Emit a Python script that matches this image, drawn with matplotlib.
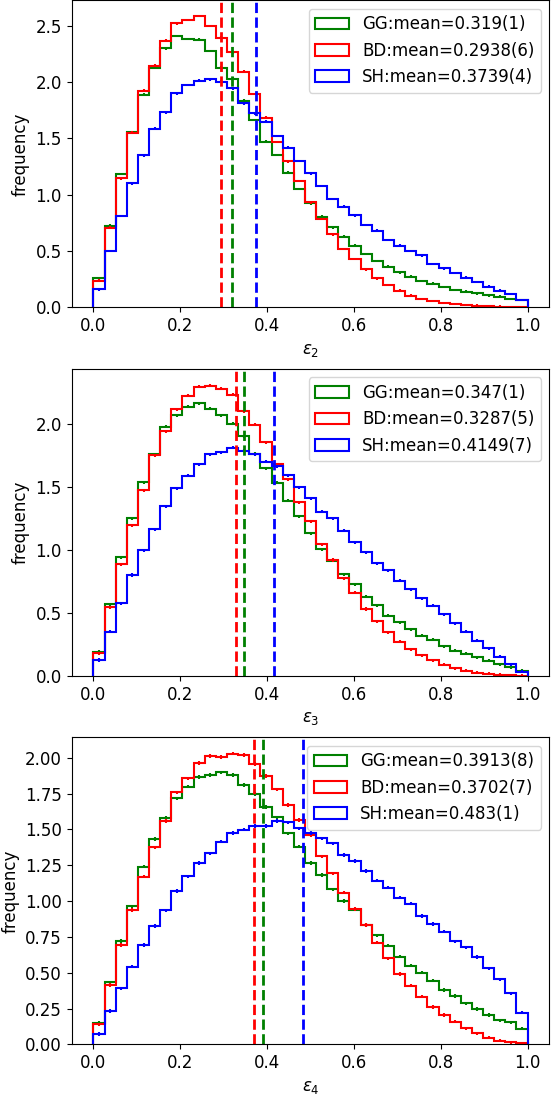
import numpy as np
import matplotlib
matplotlib.use('Agg')
import matplotlib.pyplot as plt

plt.rcParams['font.size'] = 12

# 39 Bins auf [0, 1], normierte Haeufigkeit
edges = np.linspace(0, 1, 40)

####### Daten eps_2 #######
gg_2 = [0.257, 0.725, 1.183, 1.553, 1.888, 2.124, 2.299, 2.408, 2.382, 2.376, 2.275, 2.127, 2.030,
        1.834, 1.663, 1.470, 1.352, 1.195, 1.050, 0.923, 0.805, 0.710, 0.627, 0.547, 0.473, 0.411,
        0.361, 0.311, 0.272, 0.234, 0.210, 0.180, 0.154, 0.139, 0.124, 0.106, 0.094, 0.074, 0.065]
bd_2 = [0.237, 0.707, 1.145, 1.550, 1.923, 2.145, 2.367, 2.521, 2.550, 2.586, 2.497, 2.393, 2.263,
        2.092, 1.893, 1.683, 1.467, 1.296, 1.120, 0.932, 0.784, 0.648, 0.518, 0.429, 0.337, 0.257,
        0.198, 0.148, 0.103, 0.074, 0.056, 0.038, 0.029, 0.020, 0.015, 0.009, 0.006, 0.003, 0.002]
sh_2 = [0.160, 0.500, 0.811, 1.101, 1.349, 1.586, 1.731, 1.899, 1.973, 2.012, 2.024, 2.003, 1.944,
        1.811, 1.722, 1.648, 1.521, 1.417, 1.299, 1.190, 1.077, 0.962, 0.893, 0.816, 0.730, 0.680,
        0.597, 0.547, 0.500, 0.461, 0.384, 0.346, 0.305, 0.263, 0.225, 0.183, 0.147, 0.118, 0.065]

####### Daten eps_3 #######
gg_3 = [0.193, 0.571, 0.942, 1.251, 1.537, 1.759, 1.979, 2.071, 2.138, 2.164, 2.124, 2.071, 2.003,
        1.905, 1.765, 1.648, 1.534, 1.392, 1.270, 1.132, 1.005, 0.915, 0.807, 0.728, 0.630, 0.563,
        0.479, 0.426, 0.373, 0.320, 0.286, 0.238, 0.201, 0.175, 0.148, 0.122, 0.093, 0.069, 0.040]
bd_3 = [0.180, 0.545, 0.889, 1.198, 1.476, 1.754, 1.942, 2.119, 2.225, 2.296, 2.304, 2.280, 2.235,
        2.103, 1.995, 1.857, 1.683, 1.563, 1.381, 1.230, 1.045, 0.921, 0.775, 0.661, 0.532, 0.434,
        0.347, 0.270, 0.214, 0.164, 0.124, 0.090, 0.063, 0.042, 0.026, 0.016, 0.011, 0.005, 0.003]
sh_3 = [0.127, 0.352, 0.577, 0.802, 1.000, 1.167, 1.349, 1.489, 1.590, 1.683, 1.762, 1.775, 1.812,
        1.788, 1.759, 1.701, 1.667, 1.595, 1.497, 1.410, 1.304, 1.251, 1.153, 1.061, 0.984, 0.894,
        0.839, 0.757, 0.690, 0.616, 0.558, 0.492, 0.418, 0.352, 0.280, 0.220, 0.153, 0.095, 0.034]

####### Daten eps_4 #######
gg_4 = [0.151, 0.433, 0.721, 0.963, 1.240, 1.433, 1.581, 1.716, 1.798, 1.867, 1.879, 1.898, 1.879,
        1.809, 1.747, 1.658, 1.584, 1.472, 1.379, 1.267, 1.181, 1.081, 0.999, 0.941, 0.833, 0.760,
        0.688, 0.612, 0.549, 0.500, 0.444, 0.379, 0.336, 0.286, 0.246, 0.204, 0.168, 0.154, 0.109]
bd_4 = [0.140, 0.414, 0.693, 0.937, 1.170, 1.374, 1.560, 1.758, 1.856, 1.965, 2.014, 2.007, 2.030,
        2.019, 1.956, 1.874, 1.779, 1.670, 1.565, 1.460, 1.313, 1.193, 1.058, 0.944, 0.832, 0.709,
        0.600, 0.490, 0.409, 0.332, 0.262, 0.204, 0.158, 0.111, 0.077, 0.046, 0.025, 0.014, 0.007]
sh_4 = [0.072, 0.233, 0.391, 0.542, 0.693, 0.826, 0.935, 1.070, 1.172, 1.267, 1.333, 1.414, 1.474,
        1.498, 1.523, 1.523, 1.558, 1.549, 1.507, 1.476, 1.437, 1.402, 1.321, 1.281, 1.209, 1.142,
        1.093, 1.023, 0.983, 0.897, 0.839, 0.786, 0.718, 0.676, 0.611, 0.530, 0.453, 0.356, 0.221]

# Mittelwerte und Legendentexte
means_2 = [0.319, 0.2938, 0.3739]
means_3 = [0.347, 0.3287, 0.4149]
means_4 = [0.3913, 0.3702, 0.483]
labels_2 = ['GG:mean=0.319(1)', 'BD:mean=0.2938(6)', 'SH:mean=0.3739(4)']
labels_3 = ['GG:mean=0.347(1)', 'BD:mean=0.3287(5)', 'SH:mean=0.4149(7)']
labels_4 = ['GG:mean=0.3913(8)', 'BD:mean=0.3702(7)', 'SH:mean=0.483(1)']

fehler = 0.012  # kleine Fehlerbalken an den Binmitten
farben = ['g', 'r', 'b']

panels = [
    ([gg_2, bd_2, sh_2], means_2, labels_2, r'$\varepsilon_2$', 2.723, np.arange(0, 2.51, 0.5), 0.7191),
    ([gg_3, bd_3, sh_3], means_3, labels_3, r'$\varepsilon_3$', 2.437, np.arange(0, 2.01, 0.5), 0.3821),
    ([gg_4, bd_4, sh_4], means_4, labels_4, r'$\varepsilon_4$', 2.142, np.arange(0, 2.01, 0.25), 0.0454),
]

centers = 0.5 * (edges[:-1] + edges[1:])

fig = plt.figure(figsize=(5.52, 10.94), dpi=100)

for reihen, means, labels, xlab, ytop, yticks, unten in panels:
    ax = fig.add_axes([0.1299, unten, 0.8652, 0.2805])
    for werte, c, lab in zip(reihen, farben, labels):
        ax.hist(centers, bins=edges, weights=werte, histtype='step', color=c, lw=1.5, label=lab)
        ax.errorbar(centers, werte, yerr=fehler, fmt='none', ecolor=c, elinewidth=1.5)
    for m, c in zip(means, farben):
        ax.axvline(m, color=c, ls='--', lw=2)
    ax.set_xlim(-0.05, 1.05)
    ax.set_ylim(0, ytop)
    ax.set_yticks(yticks)
    ax.set_xticks([0.0, 0.2, 0.4, 0.6, 0.8, 1.0])
    ax.set_xlabel(xlab)
    ax.set_ylabel('frequency')
    ax.legend(loc='upper right')

fig.savefig('out.png', dpi=100)
